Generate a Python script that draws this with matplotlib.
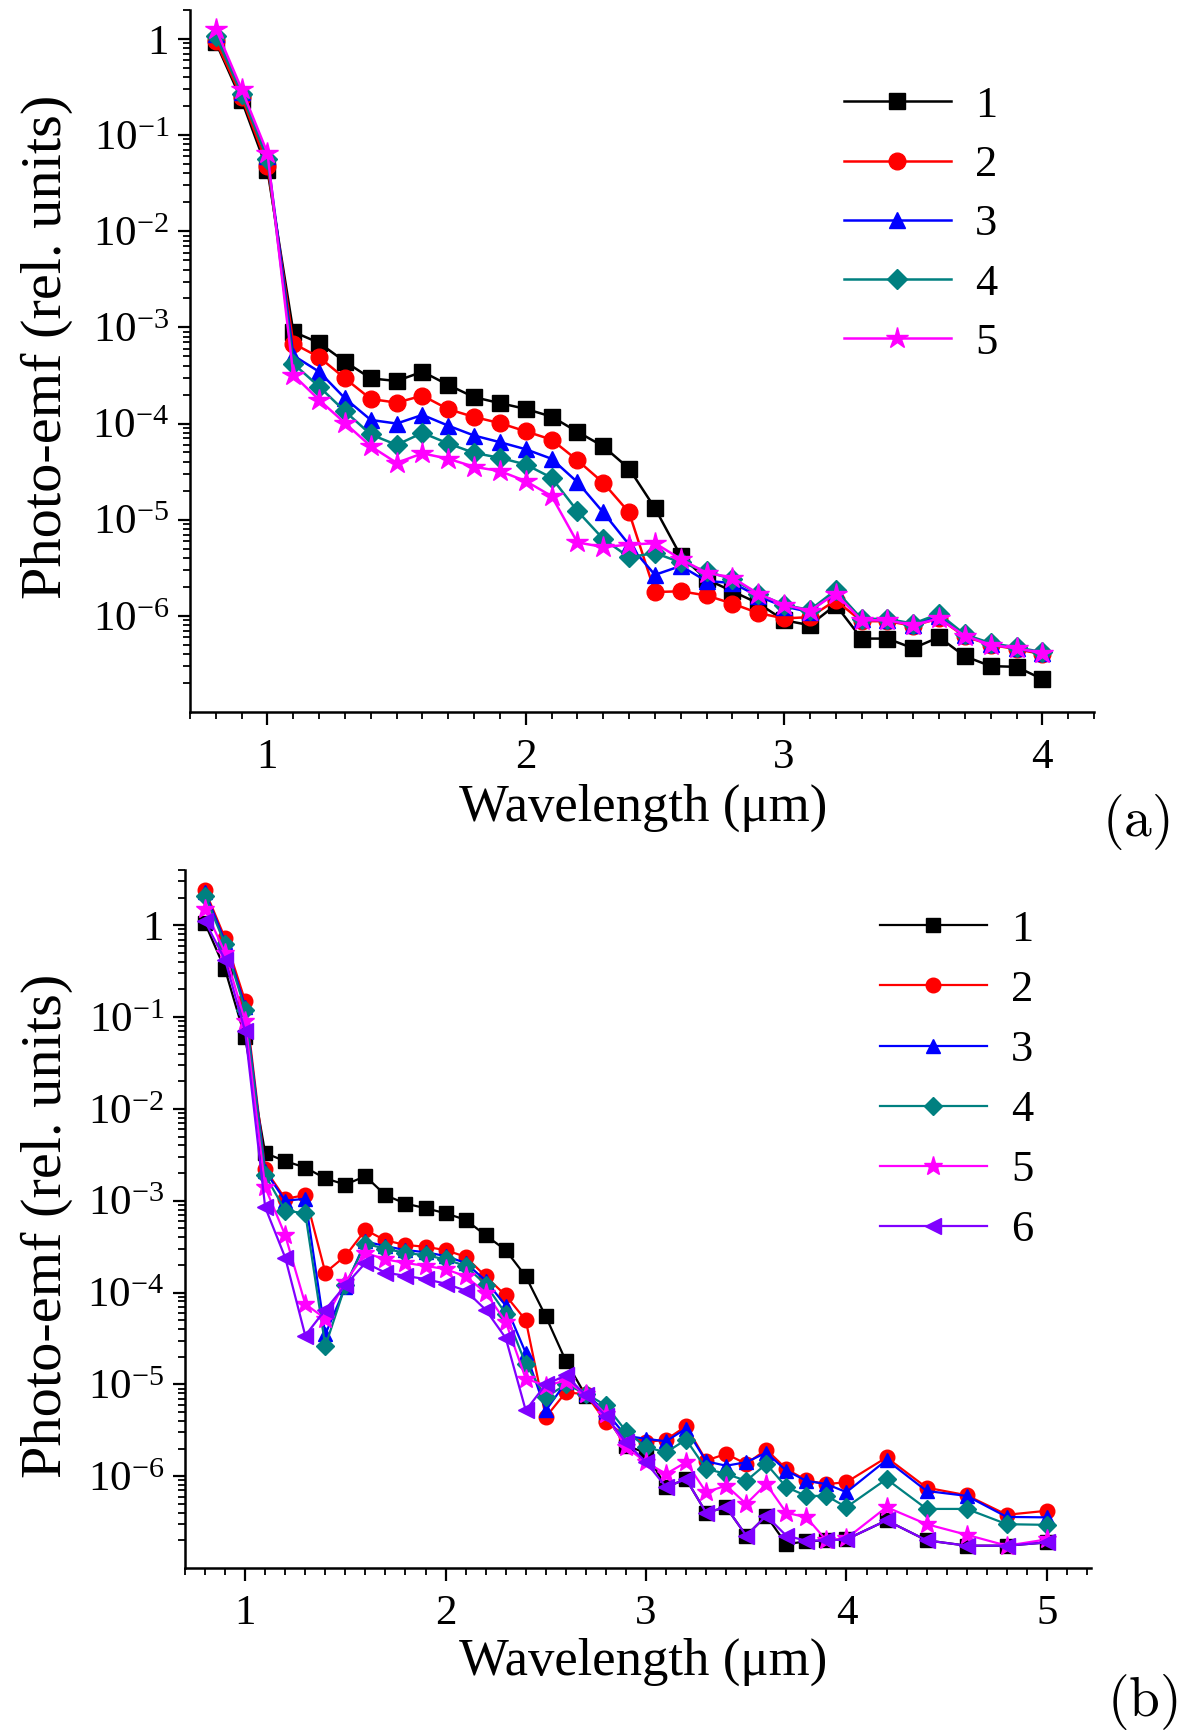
import matplotlib
matplotlib.use('Agg')
import matplotlib.pyplot as plt
from matplotlib.ticker import LogLocator, NullFormatter, MultipleLocator

plt.rcParams['font.family'] = ['Liberation Serif', 'DejaVu Serif']
plt.rcParams['mathtext.fontset'] = 'custom'
plt.rcParams['mathtext.rm'] = 'Liberation Serif'
plt.rcParams['mathtext.it'] = 'Liberation Serif:italic'
plt.rcParams['mathtext.bf'] = 'Liberation Serif:bold'

# ---------------- data: panel (a) ----------------
wl_a = [0.8, 0.9, 1.0, 1.1, 1.2, 1.3, 1.4, 1.5, 1.6, 1.7, 1.8, 1.9, 2.0, 2.1, 2.2, 2.3, 2.4,
        2.5, 2.6, 2.7, 2.8, 2.9, 3.0, 3.1, 3.2, 3.3, 3.4, 3.5, 3.6, 3.7, 3.8, 3.9, 4.0]
a1 = [0.92, 0.23, 0.043, 9.0e-4, 6.9e-4, 4.4e-4, 2.95e-4, 2.77e-4, 3.46e-4, 2.52e-4, 1.88e-4,
      1.63e-4, 1.42e-4, 1.18e-4, 8.2e-5, 5.8e-5, 3.4e-5, 1.32e-5, 4.2e-6, 2.4e-6, 1.8e-6,
      1.35e-6, 9.0e-7, 8.0e-7, 1.3e-6, 5.8e-7, 5.8e-7, 4.6e-7, 6.0e-7, 3.8e-7, 3.0e-7, 2.95e-7, 2.2e-7]
a2 = [0.95, 0.25, 0.048, 6.8e-4, 4.9e-4, 2.95e-4, 1.8e-4, 1.65e-4, 1.95e-4, 1.41e-4, 1.17e-4,
      1.01e-4, 8.3e-5, 6.8e-5, 4.15e-5, 2.42e-5, 1.19e-5, 1.77e-6, 1.8e-6, 1.63e-6, 1.34e-6,
      1.07e-6, 9.4e-7, 9.7e-7, 1.45e-6, 8.8e-7, 8.8e-7, 7.9e-7, 9.4e-7, 6.1e-7, 5.0e-7, 4.5e-7, 4.0e-7]
a3 = [1.12, 0.28, 0.06, 5.1e-4, 3.46e-4, 1.83e-4, 1.09e-4, 1.0e-4, 1.23e-4, 9.5e-5, 7.5e-5,
      6.4e-5, 5.4e-5, 4.3e-5, 2.46e-5, 1.19e-5, 5.5e-6, 2.67e-6, 3.3e-6, 2.3e-6, 2.2e-6,
      1.6e-6, 1.25e-6, 1.1e-6, 1.8e-6, 9.2e-7, 9.0e-7, 8.1e-7, 1.0e-6, 6.3e-7, 5.1e-7, 4.6e-7, 4.1e-7]
a4 = [1.08, 0.27, 0.056, 4.2e-4, 2.42e-4, 1.34e-4, 7.7e-5, 6.0e-5, 8.0e-5, 6.2e-5, 4.95e-5,
      4.4e-5, 3.75e-5, 2.73e-5, 1.23e-5, 6.3e-6, 4.07e-6, 4.5e-6, 3.6e-6, 2.9e-6, 2.4e-6,
      1.7e-6, 1.3e-6, 1.15e-6, 1.85e-6, 9.3e-7, 9.3e-7, 8.3e-7, 1.05e-6, 6.4e-7, 5.2e-7, 4.7e-7, 4.2e-7]
a5 = [1.28, 0.30, 0.065, 3.2e-4, 1.76e-4, 1.01e-4, 5.8e-5, 3.9e-5, 4.9e-5, 4.3e-5, 3.55e-5,
      3.2e-5, 2.52e-5, 1.76e-5, 5.8e-6, 5.2e-6, 5.5e-6, 5.7e-6, 3.9e-6, 2.8e-6, 2.5e-6,
      1.7e-6, 1.3e-6, 1.13e-6, 1.7e-6, 9.0e-7, 9.0e-7, 8.0e-7, 9.4e-7, 6.2e-7, 5.0e-7, 4.6e-7, 4.1e-7]

# ---------------- data: panel (b) ----------------
wl_b = [0.8, 0.9, 1.0, 1.1, 1.2, 1.3, 1.4, 1.5, 1.6, 1.7, 1.8, 1.9, 2.0, 2.1, 2.2, 2.3, 2.4,
        2.5, 2.6, 2.7, 2.8, 2.9, 3.0, 3.1, 3.2, 3.3, 3.4, 3.5, 3.6, 3.7, 3.8, 3.9, 4.0,
        4.2, 4.4, 4.6, 4.8, 5.0]
b1 = [1.05, 0.33, 0.06, 3.3e-3, 2.7e-3, 2.3e-3, 1.75e-3, 1.5e-3, 1.85e-3, 1.15e-3, 9.3e-4,
      8.3e-4, 7.3e-4, 6.2e-4, 4.2e-4, 2.9e-4, 1.5e-4, 5.5e-5, 1.8e-5, 7.5e-6, 4.5e-6,
      2.15e-6, 1.8e-6, 7.6e-7, 9.3e-7, 4.0e-7, 4.6e-7, 2.25e-7, 3.7e-7, 1.82e-7, 1.95e-7,
      2.0e-7, 2.05e-7, 3.3e-7, 2.0e-7, 1.75e-7, 1.75e-7, 1.9e-7]
b2 = [2.4, 0.72, 0.15, 2.2e-3, 1.05e-3, 1.15e-3, 1.65e-4, 2.5e-4, 4.8e-4, 3.7e-4, 3.3e-4,
      3.15e-4, 2.9e-4, 2.45e-4, 1.5e-4, 9.3e-5, 5.0e-5, 4.4e-6, 8.2e-6, 7.8e-6, 3.9e-6,
      2.75e-6, 2.35e-6, 2.5e-6, 3.5e-6, 1.48e-6, 1.75e-6, 1.36e-6, 1.95e-6, 1.2e-6, 9.0e-7,
      8.2e-7, 8.6e-7, 1.6e-6, 7.5e-7, 6.2e-7, 3.8e-7, 4.2e-7]
b3 = [2.3, 0.66, 0.13, 2.1e-3, 1.0e-3, 1.05e-3, 3.5e-5, 1.15e-4, 3.6e-4, 3.2e-4, 2.9e-4,
      2.75e-4, 2.5e-4, 2.1e-4, 1.35e-4, 7.2e-5, 2.2e-5, 5.2e-6, 1.05e-5, 7.9e-6, 5.0e-6,
      2.75e-6, 2.55e-6, 2.4e-6, 3.3e-6, 1.45e-6, 1.3e-6, 1.42e-6, 1.8e-6, 1.15e-6, 8.9e-7,
      8.2e-7, 6.7e-7, 1.5e-6, 6.9e-7, 6.1e-7, 3.6e-7, 3.56e-7]
b4 = [2.1, 0.62, 0.12, 1.9e-3, 7.8e-4, 7.3e-4, 2.6e-5, 1.2e-4, 3.4e-4, 3.0e-4, 2.7e-4,
      2.55e-4, 2.3e-4, 1.95e-4, 1.22e-4, 5.9e-5, 1.67e-5, 7.2e-6, 1.0e-5, 7.9e-6, 5.9e-6,
      3.1e-6, 2.07e-6, 1.82e-6, 2.5e-6, 1.2e-6, 1.06e-6, 8.9e-7, 1.36e-6, 7.6e-7, 6.1e-7,
      6.1e-7, 4.6e-7, 9.3e-7, 4.4e-7, 4.4e-7, 3.0e-7, 2.95e-7]
b5 = [1.5, 0.5, 0.09, 1.4e-3, 4.2e-4, 7.5e-5, 5.2e-5, 1.3e-4, 2.7e-4, 2.3e-4, 2.1e-4,
      1.95e-4, 1.8e-4, 1.5e-4, 1.0e-4, 4.8e-5, 1.15e-5, 9.7e-6, 1.1e-5, 7.8e-6, 4.7e-6,
      2.07e-6, 1.42e-6, 1.06e-6, 1.42e-6, 6.7e-7, 7.9e-7, 5.0e-7, 8.2e-7, 4.0e-7, 3.56e-7,
      2.0e-7, 2.1e-7, 4.6e-7, 3.0e-7, 2.3e-7, 1.75e-7, 2.05e-7]
b6 = [1.1, 0.42, 0.07, 8.5e-4, 2.4e-4, 3.4e-5, 6.5e-5, 1.2e-4, 2.1e-4, 1.65e-4, 1.52e-4,
      1.4e-4, 1.25e-4, 1.05e-4, 6.5e-5, 3.2e-5, 5.2e-6, 1.0e-5, 1.25e-5, 7.6e-6, 4.5e-6,
      2.34e-6, 1.42e-6, 7.6e-7, 9.3e-7, 4.0e-7, 4.6e-7, 2.25e-7, 3.7e-7, 2.25e-7, 1.98e-7,
      2.0e-7, 2.05e-7, 3.3e-7, 2.0e-7, 1.75e-7, 1.75e-7, 1.9e-7]

labels_a = ['1', '2', '3', '4', '5']
labels_b = ['1', '2', '3', '4', '5', '6']
ytick_vals = [1e-6, 1e-5, 1e-4, 1e-3, 1e-2, 1e-1, 1]
ytick_labels = [r'$10^{-6}$', r'$10^{-5}$', r'$10^{-4}$', r'$10^{-3}$', r'$10^{-2}$',
                r'$10^{-1}$', '1']

colors = ['#000000', '#ff0000', '#0000ff', '#008080', '#ff00ff', '#8000ff']
markers = ['s', 'o', '^', 'D', '*', '<']
msize_a = [11, 12, 12, 10, 16]
msize_b = [9.5, 10.5, 10.5, 9, 14, 11.5]

fig = plt.figure(figsize=(12, 17.3), dpi=100)
ax_a = fig.add_axes([190/1200, 1 - 712/1730, 904/1200, 702/1730])
ax_b = fig.add_axes([185/1200, 1 - 1568/1730, 906/1200, 698/1730])

TICK_FS = 31
LABEL_FS = 38


def style(ax, xlim, ylim, xticks):
    ax.set_yscale('log')
    ax.set_xlim(*xlim)
    ax.set_ylim(*ylim)
    for s in ['top', 'right']:
        ax.spines[s].set_visible(False)
    for s in ['left', 'bottom']:
        ax.spines[s].set_linewidth(1.8)
    ax.set_xticks(xticks)
    ax.set_xticklabels([str(t) for t in xticks])
    ax.xaxis.set_minor_locator(MultipleLocator(0.1))
    ax.set_yticks(ytick_vals)
    ax.set_yticklabels(ytick_labels)
    ax.yaxis.set_minor_locator(LogLocator(base=10, subs=[2, 3, 4, 5, 6, 7, 8, 9], numticks=20))
    ax.yaxis.set_minor_formatter(NullFormatter())
    ax.tick_params(which='major', direction='out', length=9, width=1.6,
                   labelsize=TICK_FS)
    ax.tick_params(which='minor', direction='out', length=5, width=1.3)
    ax.tick_params(axis='x', which='major', pad=10)
    ax.tick_params(axis='y', which='major', pad=6)


# panel (a)
for i, ys in enumerate([a1, a2, a3, a4, a5]):
    ax_a.plot(wl_a, ys, color=colors[i], marker=markers[i], markersize=msize_a[i],
              markeredgecolor=colors[i], markerfacecolor=colors[i], linewidth=1.8,
              label=labels_a[i], zorder=3 + i)
style(ax_a, (0.7, 4.2), (1e-7, 2), [1, 2, 3, 4])
ax_a.set_xlabel('Wavelength (\u03bcm)', fontsize=LABEL_FS)
ax_a.xaxis.set_label_coords(0.501, -0.137)
ax_a.xaxis.label.set_va('center')
ax_a.set_ylabel('Photo-emf (rel. units)', fontsize=LABEL_FS + 4)
ax_a.yaxis.set_label_coords(-0.158, 0.52)
ax_a.yaxis.label.set_va('center')
ax_a.legend(loc='upper left', bbox_to_anchor=(0.7235, 0.892), frameon=False,
            fontsize=TICK_FS + 1, handlelength=2.4, handletextpad=0.55, labelspacing=0.43,
            borderpad=0, borderaxespad=0)

# panel (b)
for i, ys in enumerate([b1, b2, b3, b4, b5, b6]):
    ax_b.plot(wl_b, ys, color=colors[i], marker=markers[i], markersize=msize_b[i],
              markeredgecolor=colors[i], markerfacecolor=colors[i], linewidth=1.6,
              label=labels_b[i], zorder=3 + i)
style(ax_b, (0.7, 5.22), (1e-7, 4), [1, 2, 3, 4, 5])
ax_b.set_xlabel('Wavelength (\u03bcm)', fontsize=LABEL_FS)
ax_b.xaxis.set_label_coords(0.5055, -0.135)
ax_b.xaxis.label.set_va('center')
ax_b.set_ylabel('Photo-emf (rel. units)', fontsize=LABEL_FS + 4)
ax_b.yaxis.set_label_coords(-0.152, 0.49)
ax_b.yaxis.label.set_va('center')
ax_b.legend(loc='upper left', bbox_to_anchor=(0.767, 0.943), frameon=False,
            fontsize=TICK_FS + 1, handlelength=2.4, handletextpad=0.55, labelspacing=0.45,
            borderpad=0, borderaxespad=0)

fig.text(1136/1200, 1 - 822/1730, r'$\mathrm{(a)}$', fontsize=40, ha='center', va='center',
         math_fontfamily='cm')
fig.text(1142/1200, 1 - 1702/1730, r'$\mathrm{(b)}$', fontsize=40, ha='center', va='center',
         math_fontfamily='cm')

fig.savefig('out.png', dpi=100)
